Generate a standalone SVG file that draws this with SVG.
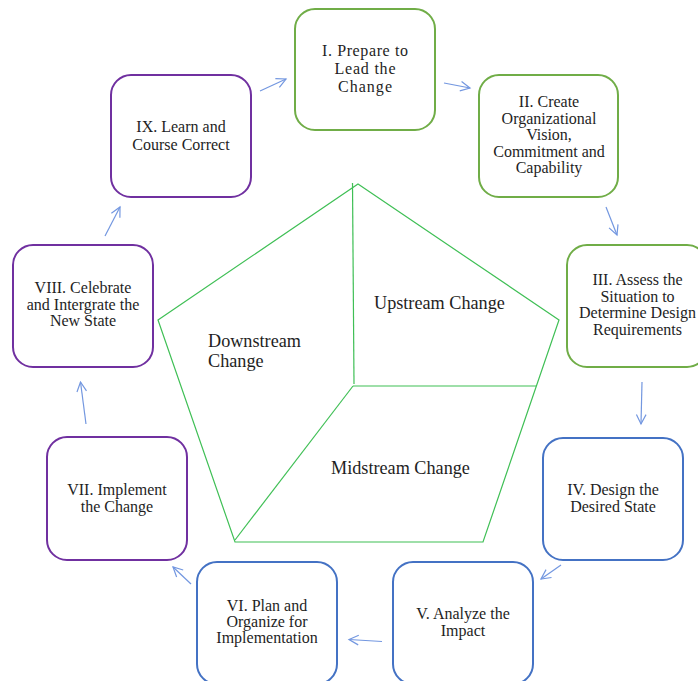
<svg xmlns="http://www.w3.org/2000/svg" width="698" height="681" viewBox="0 0 698 681">
  <defs>
    <style>
      .box { fill: #ffffff; stroke-width: 2; }
      .green { stroke: #70ad47; }
      .purple { stroke: #7030a0; }
      .blue { stroke: #4472c4; }
      text { font-family: 'Liberation Serif', 'DejaVu Serif', serif; fill: #1e1e1e; }
      .label { font-size: 16px; text-anchor: middle; }
      .zone { font-size: 18.2px; }
      .link { fill: none; stroke: #7397e0; stroke-width: 1.2; marker-end: url(#open-arrow); }
      .pent { fill: none; stroke: #3fbf55; stroke-width: 1.2; }
    </style>
    <marker id="open-arrow" viewBox="-11 -7 13 14" refX="0" refY="0" markerWidth="13" markerHeight="14" markerUnits="userSpaceOnUse" orient="auto">
      <path d="M-9.5,-4.8 L0,0 L-9.5,4.8" fill="none" stroke="#7397e0" stroke-width="1.2"/>
    </marker>
  </defs>

  <rect width="698" height="681" fill="#ffffff"/>

  <!-- central pentagon split into three change zones -->
  <g id="pentagon">
    <polygon class="pent" points="358,184 559,320 483,542 235,542 158,320"/>
    <line class="pent" x1="352.5" y1="183" x2="354" y2="384"/>
    <line class="pent" x1="353" y1="386" x2="536" y2="386"/>
    <line class="pent" x1="353" y1="386" x2="235" y2="540"/>
    <text class="zone" x="374" y="309" font-family="Liberation Serif, serif">Upstream Change</text>
    <text class="zone" x="208" y="347" font-family="Liberation Serif, serif">Downstream</text>
    <text class="zone" x="208" y="367" font-family="Liberation Serif, serif">Change</text>
    <text class="zone" x="331" y="474" font-family="Liberation Serif, serif">Midstream Change</text>
  </g>

  <!-- cycle connectors -->
  <g id="connectors">
    <line class="link" x1="444" y1="83" x2="470" y2="88"/>
    <line class="link" x1="606" y1="207" x2="617" y2="235"/>
    <line class="link" x1="642" y1="382" x2="641" y2="424"/>
    <line class="link" x1="561" y1="565" x2="541" y2="579"/>
    <line class="link" x1="382" y1="641.5" x2="349" y2="639.5"/>
    <line class="link" x1="191" y1="584" x2="173" y2="567"/>
    <line class="link" x1="86" y1="424" x2="80.5" y2="382"/>
    <line class="link" x1="105" y1="236" x2="120" y2="207"/>
    <line class="link" x1="260" y1="91" x2="286" y2="79"/>
  </g>

  <g id="step-1">
    <rect class="box green" x="295" y="9" width="140" height="121" rx="20"/>
    <text class="label" x="365" y="56" textLength="86" lengthAdjust="spacing">I. Prepare to</text>
    <text class="label" x="365" y="74" textLength="61" lengthAdjust="spacing">Lead the</text>
    <text class="label" x="365" y="92" textLength="54" lengthAdjust="spacing">Change</text>
  </g>

  <g id="step-2">
    <rect class="box green" x="479" y="75" width="139" height="122" rx="20"/>
    <text class="label" x="549" y="107">II. Create</text>
    <text class="label" x="549" y="124">Organizational</text>
    <text class="label" x="549" y="140">Vision,</text>
    <text class="label" x="549" y="157">Commitment and</text>
    <text class="label" x="549" y="173">Capability</text>
  </g>

  <g id="step-3">
    <rect class="box green" x="567" y="245" width="140" height="122" rx="20"/>
    <text class="label" x="637.5" y="285">III. Assess the</text>
    <text class="label" x="637.5" y="302">Situation to</text>
    <text class="label" x="637.5" y="318">Determine Design</text>
    <text class="label" x="637.5" y="335">Requirements</text>
  </g>

  <g id="step-4">
    <rect class="box blue" x="543" y="438" width="140" height="122" rx="20"/>
    <text class="label" x="613" y="495">IV. Design the</text>
    <text class="label" x="613" y="512">Desired State</text>
  </g>

  <g id="step-5">
    <rect class="box blue" x="393" y="562" width="140" height="122" rx="20"/>
    <text class="label" x="463" y="619">V. Analyze the</text>
    <text class="label" x="463" y="636">Impact</text>
  </g>

  <g id="step-6">
    <rect class="box blue" x="197" y="562" width="140" height="122" rx="20"/>
    <text class="label" x="267" y="611">VI. Plan and</text>
    <text class="label" x="267" y="627">Organize for</text>
    <text class="label" x="267" y="643">Implementation</text>
  </g>

  <g id="step-7">
    <rect class="box purple" x="47" y="437" width="140" height="123" rx="20"/>
    <text class="label" x="117" y="495">VII. Implement</text>
    <text class="label" x="117" y="512">the Change</text>
  </g>

  <g id="step-8">
    <rect class="box purple" x="13" y="245" width="140" height="122" rx="20"/>
    <text class="label" x="83" y="293">VIII. Celebrate</text>
    <text class="label" x="83" y="310">and Intergrate the</text>
    <text class="label" x="83" y="326">New State</text>
  </g>

  <g id="step-9">
    <rect class="box purple" x="111" y="75" width="140" height="122" rx="20"/>
    <text class="label" x="181" y="132">IX. Learn and</text>
    <text class="label" x="181" y="150">Course Correct</text>
  </g>
</svg>
